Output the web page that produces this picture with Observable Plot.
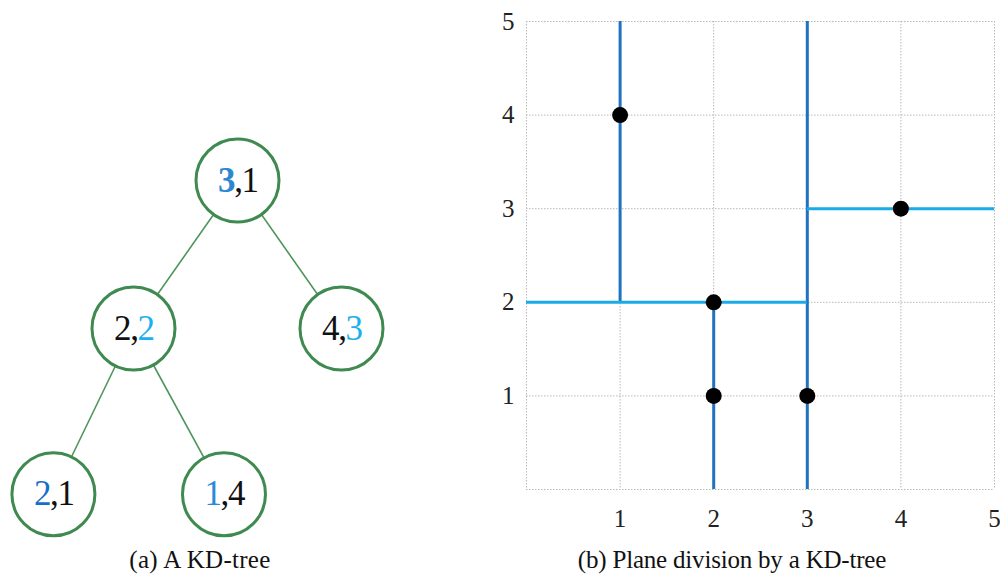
<!DOCTYPE html>
<html>
<head>
<meta charset="utf-8">
<script src="https://cdn.jsdelivr.net/npm/d3@7"></script>
<script src="https://cdn.jsdelivr.net/npm/@observablehq/plot@0.6"></script>
<style>
  html, body { margin: 0; padding: 0; background: #fff; }
  #wrap { position: relative; width: 1000px; height: 575px; overflow: hidden; }
  #tree, #plane { position: absolute; top: 0; }
  #tree { left: 0; }
  #plane { left: 480px; }
  .cap { position: absolute; top: 547px; font-family: "Liberation Serif", "Times New Roman", serif; font-size: 25px; line-height: 25px; color: #111; white-space: nowrap; transform: translateX(-50%); }
</style>
</head>
<body>
<div id="wrap">
  <div id="tree"></div>
  <div id="plane"></div>
  <div class="cap" id="capA" style="left:200px; letter-spacing:0.3px">(a) A KD-tree</div>
  <div class="cap" id="capB" style="left:732px; letter-spacing:-0.2px">(b) Plane division by a KD-tree</div>
</div>
<script>
// ---- KD-tree (left panel) ----
const nodeLabels  = ["3,1", "2,2", "4,3", "2,1", "1,4"];
const nodeParent  = [null, 0, 0, 1, 1];
const nodeX       = [0, -1, 1, -1.77, -0.13];   // layout position (units)
const nodeLevel   = [0, 1, 1, 2.12, 2.12];      // depth (units)
const firstColor  = ["#2f86d0", "#111111", "#111111", "#1670c6", "#2a8ad8"];
const secondColor = ["#111111", "#1bb0ee", "#1bb0ee", "#111111", "#111111"];
const firstBold   = [true, false, false, false, false];

// ---- Plane division (right panel) ----
const xTicks = [1, 2, 3, 4, 5];
const yTicks = [1, 2, 3, 4, 5];
const gridValues = [0, 1, 2, 3, 4, 5];
const pointX = [1, 2, 2, 3, 4];
const pointY = [4, 2, 1, 1, 3];
const vSplitX  = [3, 1, 2];
const vSplitY1 = [0, 2, 0];
const vSplitY2 = [5, 5, 2];
const hSplitY  = [2, 3];
const hSplitX1 = [0, 3];
const hSplitX2 = [3, 5];

// build tables
const nodes = nodeLabels.map((l, i) => ({
  label: l, a: l.split(",")[0], b: l.split(",")[1],
  x: nodeX[i], y: nodeLevel[i], c1: firstColor[i], c2: secondColor[i], bold: firstBold[i]
}));
const edges = nodes.map((n, i) => nodeParent[i] == null ? null : ({
  x1: nodes[nodeParent[i]].x, y1: nodes[nodeParent[i]].y, x2: n.x, y2: n.y
})).filter(Boolean);

const green = "#3f8a50";
const treeFont = "Liberation Serif, Times New Roman, serif";
const fs = 35;
const treePlot = Plot.plot({
  width: 480, height: 545,
  x: {domain: [-1, 1], range: [133, 341], axis: null},
  y: {domain: [0, 1], range: [180, 328], axis: null},
  color: {type: "identity"},
  style: {fontFamily: treeFont, background: "transparent"},
  marks: [
    Plot.link(edges, {x1: "x1", y1: "y1", x2: "x2", y2: "y2", stroke: "#4d955d", strokeWidth: 1.6}),
    Plot.dot(nodes, {x: "x", y: "y", r: 41.5, fill: "white", stroke: green, strokeWidth: 3}),
    Plot.text(nodes.filter(d => !d.bold), {x: "x", y: "y", text: "a", fill: "c1", textAnchor: "end", dx: -2, fontSize: fs, lineAnchor: "middle"}),
    Plot.text(nodes.filter(d => d.bold), {x: "x", y: "y", text: "a", fill: "c1", textAnchor: "end", dx: -2, fontSize: fs, fontWeight: "bold", lineAnchor: "middle"}),
    Plot.text(nodes, {x: "x", y: "y", text: () => ",", fill: "#111111", textAnchor: "middle", dx: 1, fontSize: fs, lineAnchor: "middle"}),
    Plot.text(nodes, {x: "x", y: "y", text: "b", fill: "c2", textAnchor: "start", dx: 4, fontSize: fs, lineAnchor: "middle"})
  ]
});
document.getElementById("tree").appendChild(treePlot);

const points = pointX.map((x, i) => ({x, y: pointY[i]}));
const vSplits = vSplitX.map((x, i) => ({x, y1: vSplitY1[i], y2: vSplitY2[i]}));
const hSplits = hSplitY.map((y, i) => ({y, x1: hSplitX1[i], x2: hSplitX2[i]}));

const tickFs = 25;
const planePlot = Plot.plot({
  width: 520, height: 545,
  marginLeft: 46, marginRight: 6, marginTop: 21, marginBottom: 56,
  x: {domain: [0, 5], axis: null},
  y: {domain: [0, 5], axis: null},
  style: {fontFamily: treeFont, color: "#222", background: "transparent", overflow: "visible"},
  marks: [
    Plot.ruleX(gridValues, {stroke: "#b8b8b8", strokeWidth: 1, strokeDasharray: "1.5 1.5"}),
    Plot.ruleY(gridValues, {stroke: "#b8b8b8", strokeWidth: 1, strokeDasharray: "1.5 1.5"}),
    Plot.ruleX(vSplits, {x: "x", y1: "y1", y2: "y2", stroke: "#1f72c0", strokeWidth: 3}),
    Plot.ruleY(hSplits, {y: "y", x1: "x1", x2: "x2", stroke: "#1aaae8", strokeWidth: 3}),
    Plot.dot(points, {x: "x", y: "y", r: 8, fill: "black", stroke: "none"}),
    // tick labels
    Plot.text(xTicks, {x: d => d, y: () => 0, text: d => String(d), dy: 29, fontSize: tickFs, fill: "#222", lineAnchor: "middle", textAnchor: "middle"}),
    Plot.text(yTicks, {y: d => d, x: () => 0, text: d => String(d), dx: -12, fontSize: tickFs, fill: "#222", lineAnchor: "middle", textAnchor: "end"})
  ]
});
document.getElementById("plane").appendChild(planePlot);
</script>
</body>
</html>
